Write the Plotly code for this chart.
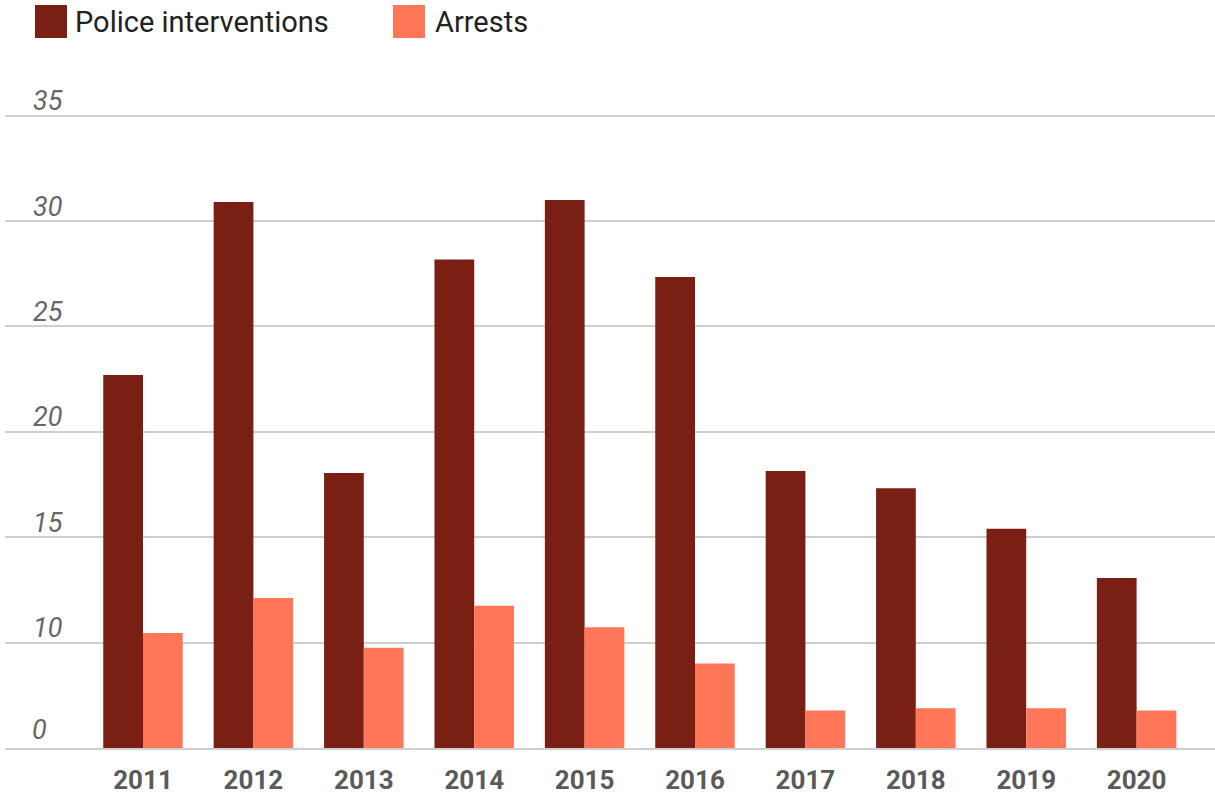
import plotly.graph_objects as go

# Yearly figures
years = [2011, 2012, 2013, 2014, 2015, 2016, 2017, 2018, 2019, 2020]
police_interventions = [22.7, 30.9, 18.05, 28.18, 31.0, 27.35, 18.14, 17.32, 15.4, 13.07]
arrests = [10.45, 12.12, 9.75, 11.75, 10.73, 9.01, 6.78, 6.88, 6.88, 6.78]

# Axis tick positions and their printed labels
y_tickvals = [5, 10, 15, 20, 25, 30, 35]
y_ticktext = ["0", "10", "15", "20", "25", "30", "35"]
x_ticktext = [str(y) for y in years]

series_names = ["Police interventions", "Arrests"]
colors = ["#7A1F14", "#FF7659"]

W, H = 1215, 796
ML, MR, MT, MB = 5, 0, 84, 48

fig = go.Figure()
fig.add_trace(go.Bar(x=years, y=police_interventions, name=series_names[0],
                     marker=dict(color=colors[0], line=dict(width=0))))
fig.add_trace(go.Bar(x=years, y=arrests, name=series_names[1],
                     marker=dict(color=colors[1], line=dict(width=0))))

# Custom legend with large square swatches above the plot
plot_w = W - ML - MR
plot_h = H - MT - MB


def px_x(p):
    return (p - ML) / plot_w


def px_y(p):
    return (H - MB - p) / plot_h


legend_items = [(35, 67, 73), (393, 425, 433)]
for (sx0, sx1, tx), name, col in zip(legend_items, series_names, colors):
    fig.add_shape(type="rect", xref="paper", yref="paper",
                  x0=px_x(sx0), x1=px_x(sx1), y0=px_y(38), y1=px_y(5),
                  fillcolor=col, line=dict(width=0))
    fig.add_annotation(xref="paper", yref="paper", x=px_x(tx), y=px_y(22),
                       text=name, showarrow=False, xanchor="left", yanchor="middle",
                       font=dict(family="Roboto", size=29, color="#222222"))

ytick_font = dict(family="Roboto", size=27, color="#666666", style="italic")

# The lowest tick sits on the plot edge, where the axis would hide its label;
# write that label explicitly above the baseline.
fig.add_annotation(xref="paper", yref="y", x=px_x(30), y=y_tickvals[0],
                   text=y_ticktext[0], showarrow=False,
                   xanchor="left", yanchor="bottom", yshift=0, font=ytick_font)

fig.update_layout(
    width=W, height=H,
    margin=dict(l=ML, r=MR, t=MT, b=MB, pad=0),
    paper_bgcolor="white", plot_bgcolor="white",
    barmode="group", bargap=0.28, bargroupgap=0,
    showlegend=False,
    font=dict(family="Roboto"),
)
fig.update_xaxes(
    range=[2009.75, 2020.71],
    tickvals=years, ticktext=x_ticktext,
    tickfont=dict(family="Roboto", size=26, color="#5a5a5a", weight="bold"),
    showgrid=False, zeroline=False,
    showline=True, linecolor="#cfcfcf", linewidth=2,
    ticks="", ticklabelstandoff=8,
)
fig.update_yaxes(
    range=[5, 36.5],
    tickvals=y_tickvals, ticktext=y_ticktext,
    tickfont=ytick_font,
    showgrid=True, gridcolor="#cfcfcf", gridwidth=2,
    zeroline=False, showline=False, ticks="",
    ticklabelposition="inside top", ticklabelshift=4, ticklabelstandoff=25,
)

fig.write_html("out.html")
